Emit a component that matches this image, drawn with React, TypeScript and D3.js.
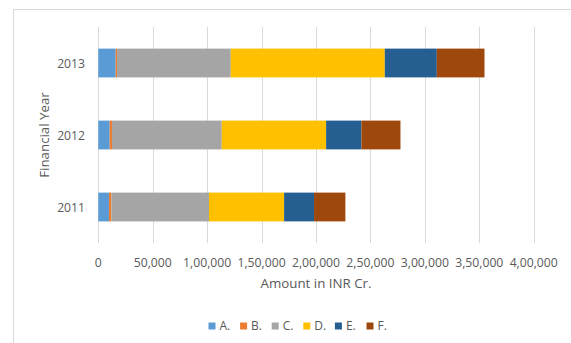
import React from "react";
import * as d3 from "d3";

const years = ["2013", "2012", "2011"];
const seriesNames = ["A.", "B.", "C.", "D.", "E.", "F."];
const seriesColors = ["#5B9BD5", "#ED7D31", "#A5A5A5", "#FFC000", "#255E91", "#9E480E"];
// values in order 2013, 2012, 2011
const A = [16000, 10500, 9800];
const B = [1200, 2100, 2200];
const C = [104500, 100800, 89700];
const D = [141500, 95900, 69000];
const E = [47800, 32400, 27500];
const F = [43800, 35900, 28800];
const tickValues = [0, 50000, 100000, 150000, 200000, 250000, 300000, 350000, 400000];
const tickLabels = ["0", "50,000", "1,00,000", "1,50,000", "2,00,000", "2,50,000", "3,00,000", "3,50,000", "4,00,000"];

const W = 571;
const H = 343;
const FONT = "'Open Sans', 'Liberation Sans', sans-serif";
const TEXT = "#595959";

export default function App() {
  const series = [A, B, C, D, E, F];
  const rows = years.map((y, i) => {
    const r: any = { year: y };
    seriesNames.forEach((n, k) => (r[n] = series[k][i]));
    return r;
  });
  const stacked = d3.stack<any>().keys(seriesNames)(rows);

  const x = d3.scaleLinear().domain([0, 400000]).range([98.3, 533.7]);
  const y = d3.scaleBand<string>().domain(years).range([27, 243]).paddingInner(0.6).paddingOuter(0.3);

  const legendX0 = 208.5;
  const legendStep = 31.6;

  return (
    <svg width={W} height={H} style={{ position: "absolute", left: 0, top: 0, display: "block" }}>
      <rect x={0} y={0} width={W} height={H} fill="#fff" />
      <rect x={13.5} y={9.5} width={W + 20} height={H + 20} fill="#fff" stroke="#d9d9d9" strokeWidth={1} />
      {tickValues.map((t) => (
        <line key={t} x1={Math.round(x(t)) + 0.5} x2={Math.round(x(t)) + 0.5} y1={27} y2={243} stroke="#d9d9d9" strokeWidth={1} />
      ))}
      {stacked.map((s, k) => (
        <g key={s.key} fill={seriesColors[k]}>
          {s.map((d, i) => (
            <rect key={i} x={x(d[0])} width={x(d[1]) - x(d[0])} y={y(d.data.year)} height={y.bandwidth()} />
          ))}
        </g>
      ))}
      {tickValues.map((t, i) => (
        <text key={t} x={x(t)} y={267} textAnchor="middle" fontFamily={FONT} fontSize={12.2} fill={TEXT}>
          {tickLabels[i]}
        </text>
      ))}
      {years.map((yr) => (
        <text key={yr} x={85} y={(y(yr) as number) + y.bandwidth() / 2 + 4.5} textAnchor="end" fontFamily={FONT} fontSize={12.2} fill={TEXT}>
          {yr}
        </text>
      ))}
      <text x={(x(0) + x(400000)) / 2} y={288} textAnchor="middle" fontFamily={FONT} fontSize={13.3} fill={TEXT}>
        Amount in INR Cr.
      </text>
      <text transform="translate(49,135) rotate(-90)" textAnchor="middle" fontFamily={FONT} fontSize={13.3} fill={TEXT}>
        Financial Year
      </text>
      {seriesNames.map((n, k) => (
        <g key={n} transform={`translate(${legendX0 + k * legendStep},0)`}>
          <rect x={0} y={322.5} width={7} height={7} fill={seriesColors[k]} />
          <text x={11} y={330} fontFamily={FONT} fontSize={12} fill={TEXT}>
            {n}
          </text>
        </g>
      ))}
    </svg>
  );
}
